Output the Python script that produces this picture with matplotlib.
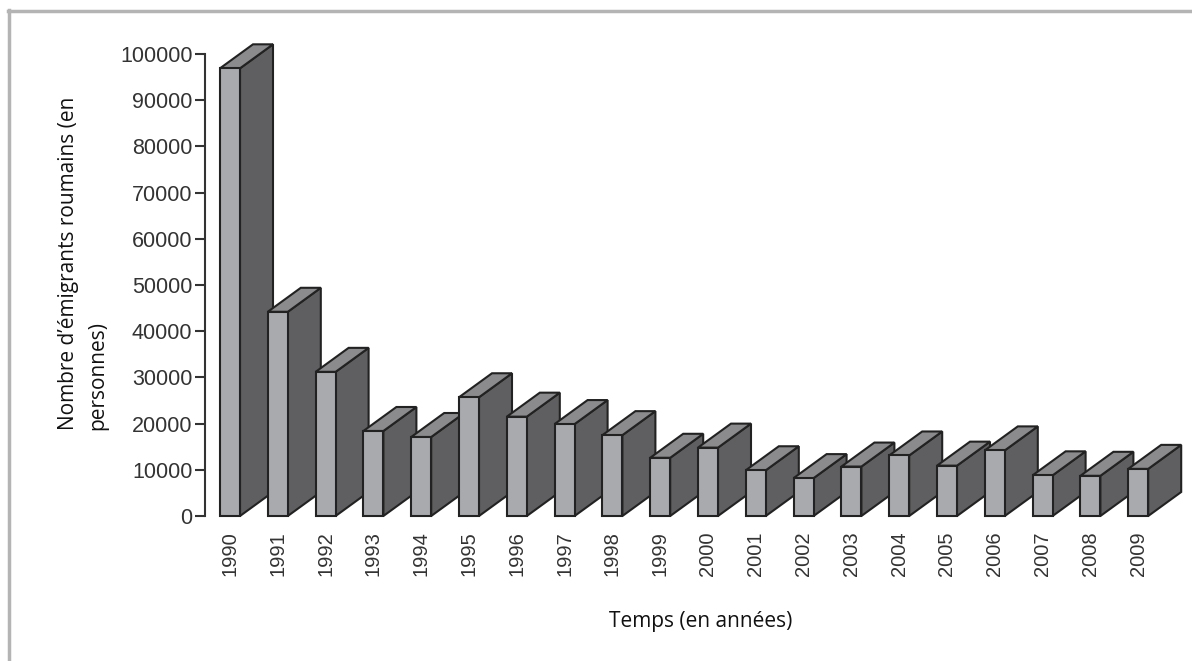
import matplotlib.pyplot as plt
from matplotlib.patches import Polygon
from matplotlib.lines import Line2D

# données
annees = ['1990', '1991', '1992', '1993', '1994', '1995', '1996', '1997', '1998', '1999',
          '2000', '2001', '2002', '2003', '2004', '2005', '2006', '2007', '2008', '2009']
emigrants = [96900, 44200, 31200, 18400, 17100, 25700, 21500, 19900, 17500, 12600,
             14800, 9900, 8200, 10700, 13100, 10900, 14200, 8800, 8700, 10200]
graduations = [0, 10000, 20000, 30000, 40000, 50000, 60000, 70000, 80000, 90000, 100000]

W, H = 1192, 661
fig = plt.figure(figsize=(W / 100, H / 100), dpi=100)
ax = fig.add_axes([205 / W, (H - 516) / H, 975 / W, 462 / H])

x0 = -(230 - 205) / 47.8
x1 = x0 + 975 / 47.8
ax.set_xlim(x0, x1)
ax.set_ylim(0, 100000)

# conversion pixels -> unités de données pour l'effet 3D
px_x = (x1 - x0) / 975
px_y = 100000 / 462
larg = 20 * px_x
dx = 33 * px_x
dy = 24 * px_y

c_face = '#a9aaae'
c_cote = '#5f5f61'
c_dessus = '#8b8b8e'
c_bord = '#222222'

for i, v in enumerate(emigrants):
    g = i - larg / 2
    d = i + larg / 2
    z = 3 + i
    face = Polygon([(g, 0), (d, 0), (d, v), (g, v)], closed=True,
                   facecolor=c_face, edgecolor=c_bord, lw=1.5, zorder=z, clip_on=False)
    cote = Polygon([(d, 0), (d + dx, dy), (d + dx, v + dy), (d, v)], closed=True,
                   facecolor=c_cote, edgecolor=c_bord, lw=1.5, zorder=z, clip_on=False)
    dessus = Polygon([(g, v), (d, v), (d + dx, v + dy), (g + dx, v + dy)], closed=True,
                     facecolor=c_dessus, edgecolor=c_bord, lw=1.5, zorder=z, clip_on=False)
    ax.add_patch(cote)
    ax.add_patch(dessus)
    ax.add_patch(face)

ax.set_xticks(range(len(annees)))
ax.set_xticklabels(annees, rotation=90, fontsize=14.5, color='#333333',
                   family='Liberation Sans')
ax.tick_params(axis='x', length=0, pad=11)
ax.set_yticks(graduations)
ax.set_yticklabels([str(t) for t in graduations], fontsize=15.5, color='#333333',
                   family='Liberation Sans')
ax.tick_params(axis='y', length=7, width=1.5, color='#333333', pad=2)

for s in ['top', 'right', 'bottom']:
    ax.spines[s].set_visible(False)
ax.spines['left'].set_linewidth(1.5)
ax.spines['left'].set_color('#333333')
ax.patch.set_alpha(0)

fig.text(83 / W, (H - 430) / H, 'Nombre d’émigrants roumains (en\npersonnes)',
         rotation=90, ha='center', va='bottom', multialignment='left',
         fontsize=15, family='Open Sans', linespacing=1.55, color='#111111')
fig.text(701 / W, (H - 622) / H, 'Temps (en années)', ha='center', va='center',
         fontsize=15, family='Open Sans', color='#111111')

# cadre gris
fig.add_artist(Line2D([8 / W, 1], [1 - 11 / H, 1 - 11 / H], color='#b4b4b4', lw=2.5))
fig.add_artist(Line2D([9 / W, 9 / W], [0, 1 - 10 / H], color='#b4b4b4', lw=2.5))

fig.savefig('out.png', dpi=100)
